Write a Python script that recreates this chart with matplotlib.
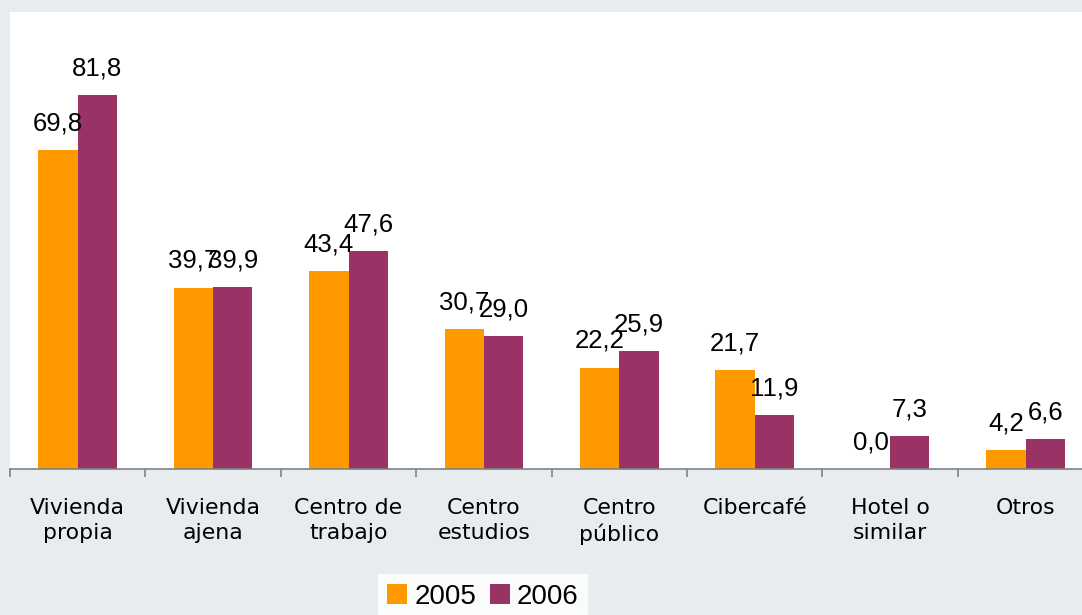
import matplotlib
matplotlib.use("Agg")
import matplotlib.pyplot as plt
import numpy as np
from matplotlib.patches import Patch

categories = ["Vivienda\npropia", "Vivienda\najena", "Centro de\ntrabajo", "Centro\nestudios",
              "Centro\npúblico", "Cibercafé", "Hotel o\nsimilar", "Otros"]
years = ["2005", "2006"]
v2005 = [69.8, 39.7, 43.4, 30.7, 22.2, 21.7, 0.0, 4.2]
v2006 = [81.8, 39.9, 47.6, 29.0, 25.9, 11.9, 7.3, 6.6]
colors = ["#FF9900", "#993366"]

W, H = 1082, 615
fig = plt.figure(figsize=(W / 100, H / 100), dpi=100, facecolor="#E8ECEE")
ax = fig.add_axes([10 / W, (H - 469) / H, (W - 10) / W, (469 - 12) / H])
ax.set_facecolor("white")

x = np.arange(len(categories))
bw = 0.29
for vals, off, c in [(v2005, -bw / 2, colors[0]), (v2006, bw / 2, colors[1])]:
    ax.bar(x + off, vals, width=bw, color=c, zorder=2)
    for xi, v in zip(x + off, vals):
        ax.annotate(f"{v:.1f}".replace(".", ","), (xi, v), xytext=(0, 10.5),
                    textcoords="offset points", ha="center", va="bottom",
                    fontsize=18.5, family="Liberation Sans", color="black")

ax.set_yticks([])
for s in ["top", "right", "left"]:
    ax.spines[s].set_visible(False)
ax.spines["bottom"].set_color("#808080")
ax.spines["bottom"].set_linewidth(1.2)

ax.set_xticks(x)
ax.set_xticklabels(categories, fontsize=15.8, family="DejaVu Sans", linespacing=1.3)
ax.tick_params(axis="x", which="major", length=0, pad=21)
ax.set_xticks(np.arange(-0.5, len(categories) + 0.5, 1), minor=True)
ax.tick_params(axis="x", which="minor", length=6, width=1.2, color="#808080", direction="out")

ax.set_xlim(-0.5, -0.5 + (W - 10) / 135.4)
ax.set_ylim(0, 100)

handles = [Patch(facecolor=c, edgecolor="none") for c in colors]
leg = fig.legend(handles, years, loc="upper center", bbox_to_anchor=(483 / W, 1 - 574 / H),
                 ncol=2, frameon=True, fancybox=False, prop={"family": "Liberation Sans", "size": 20},
                 handlelength=0.72, handleheight=0.72, handletextpad=0.25, columnspacing=0.5,
                 borderpad=0.35, borderaxespad=0)
leg.get_frame().set_facecolor("white")
leg.get_frame().set_edgecolor("none")

fig.savefig("out.png", dpi=100, facecolor=fig.get_facecolor())
